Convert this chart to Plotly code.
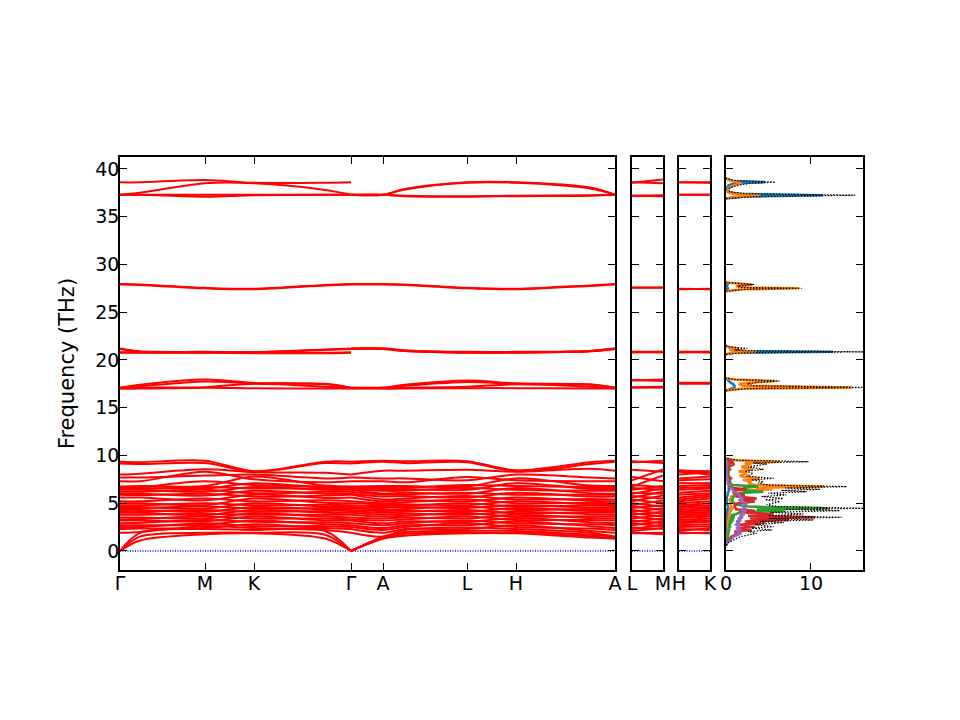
import plotly.graph_objects as go

# ---------------- k-path (distance units along the path) ----------------
seg1_k = [0, 20, 85, 134, 205, 231]            # Γ, near-Γ, M, K, near-Γ, Γ
seg2_k = [231, 263, 285, 347, 396, 470, 495]   # Γ, A, near-A, L, H, near-A, A
path_ticks = [0, 85, 134, 231, 263, 347, 396, 495]
path_labels = ["Γ", "M", "K", "Γ", "A", "L", "H", "A"]
p2_labels = ["L", "M"]
p3_labels = ["H", "K"]

# ---------------- phonon frequencies (THz), low bands (34, band order) ----------------
low_G = [0.0, 0.0, 0.0, 1.9, 2.3, 2.5, 2.7, 2.9, 3.2, 3.3, 3.5, 3.8, 4.0, 4.2, 4.3, 4.5, 4.6,
         4.8, 5.0, 5.2, 5.6, 5.9, 6.0, 6.2, 6.4, 6.5, 6.6, 6.7, 6.75, 7.3, 7.7, 8.0, 9.15, 9.35]
low_a = [1.1, 1.5, 1.9, 2.0, 2.35, 2.5, 2.7, 2.95, 3.2, 3.35, 3.5, 3.8, 4.0, 4.15, 4.3, 4.5, 4.6,
         4.8, 5.0, 5.2, 5.6, 5.85, 6.0, 6.2, 6.4, 6.5, 6.6, 6.7, 6.8, 7.3, 7.7, 8.1, 9.1, 9.3]
low_M = [1.75, 1.9, 2.3, 2.6, 2.4, 2.9, 2.75, 3.25, 3.1, 3.6, 3.4, 3.9, 3.75, 4.3, 4.1, 4.65, 4.45,
         5.0, 4.8, 5.5, 5.3, 6.0, 5.8, 6.4, 6.2, 6.7, 6.55, 7.3, 6.8, 8.3, 7.9, 8.55, 9.2, 9.45]
low_K = [1.85, 1.9, 2.2, 2.4, 2.8, 2.6, 3.2, 3.05, 3.6, 3.4, 3.95, 3.8, 4.3, 4.1, 4.6, 4.45, 5.0,
         4.8, 5.5, 5.2, 5.9, 5.7, 6.3, 6.05, 6.7, 6.55, 7.1, 6.9, 7.8, 7.5, 8.0, 8.25, 8.3, 8.35]
low_d = [1.3, 1.7, 2.1, 2.2, 2.4, 2.6, 2.8, 3.0, 3.2, 3.4, 3.6, 3.8, 4.0, 4.2, 4.35, 4.5, 4.65,
         4.85, 5.05, 5.3, 5.55, 5.8, 6.0, 6.2, 6.4, 6.55, 6.65, 6.75, 6.85, 7.2, 7.6, 8.2, 9.2, 9.35]
low_A = [1.3, 1.3, 1.5, 1.5, 1.9, 2.2, 2.4, 2.7, 2.9, 3.2, 3.4, 3.6, 3.8, 4.0, 4.2, 4.3, 4.5,
         4.7, 4.9, 5.0, 5.2, 5.4, 5.7, 5.9, 6.0, 6.3, 6.5, 6.7, 6.8, 7.3, 7.6, 8.4, 9.35, 9.45]
low_b = [1.6, 1.8, 2.0, 2.2, 2.3, 2.5, 2.7, 2.9, 3.1, 3.3, 3.5, 3.7, 3.9, 4.1, 4.25, 4.4, 4.6,
         4.75, 4.9, 5.1, 5.3, 5.5, 5.75, 5.95, 6.1, 6.3, 6.5, 6.65, 6.8, 7.2, 7.6, 8.4, 9.2, 9.4]
low_L = [1.85, 1.9, 2.1, 2.45, 2.3, 2.9, 2.7, 3.2, 3.05, 3.6, 3.4, 3.95, 3.8, 4.3, 4.1, 4.65, 4.5,
         5.0, 4.8, 5.4, 5.2, 5.75, 5.6, 6.1, 6.0, 6.6, 6.4, 6.9, 6.75, 7.75, 7.4, 8.5, 9.3, 9.4]
low_H = [1.85, 1.9, 2.1, 2.3, 2.7, 2.5, 3.1, 2.9, 3.45, 3.25, 3.8, 3.6, 4.1, 3.95, 4.5, 4.3, 4.8,
         4.65, 5.2, 5.0, 5.6, 5.4, 6.1, 5.9, 6.6, 6.4, 7.1, 6.8, 7.6, 7.4, 8.0, 8.3, 8.35, 8.45]
low_f = [1.4, 1.55, 1.7, 1.9, 2.1, 2.35, 2.6, 2.8, 3.0, 3.25, 3.45, 3.65, 3.85, 4.05, 4.2, 4.4, 4.55,
         4.75, 4.9, 5.05, 5.25, 5.45, 5.7, 5.9, 6.05, 6.3, 6.5, 6.7, 6.85, 7.3, 7.7, 8.6, 9.1, 9.3]

# ---------------- high bands (14) ----------------
high_G1 = [17.0, 17.05, 17.1, 17.1, 20.75, 20.8, 21.15, 21.2, 27.9, 27.95, 37.3, 37.3, 37.3, 38.6]
high_a = [17.0, 17.1, 17.25, 17.4, 20.75, 20.8, 20.85, 20.9, 27.85, 27.9, 37.3, 37.3, 37.5, 38.6]
high_M = [17.1, 17.15, 17.75, 17.95, 20.75, 20.8, 20.8, 20.85, 27.5, 27.55, 37.1, 37.3, 38.5, 38.85]
high_K = [17.05, 17.5, 17.55, 17.6, 20.7, 20.75, 20.8, 20.8, 27.4, 27.45, 37.25, 37.3, 38.5, 38.55]
high_d = [17.0, 17.2, 17.45, 17.5, 20.7, 20.75, 21.05, 21.1, 27.8, 27.85, 37.3, 37.3, 37.8, 38.55]
high_G3 = [17.0, 17.05, 17.1, 17.1, 21.15, 21.15, 21.2, 21.2, 27.9, 27.95, 37.3, 37.3, 37.3, 37.3]
high_A = [17.0, 17.05, 17.1, 17.1, 21.15, 21.15, 21.2, 21.2, 27.9, 27.95, 37.3, 37.3, 37.3, 37.3]
high_b = [17.0, 17.1, 17.3, 17.4, 20.95, 20.95, 21.0, 21.0, 27.85, 27.9, 37.15, 37.2, 37.85, 37.9]
high_L = [17.05, 17.2, 17.7, 17.85, 20.75, 20.8, 20.8, 20.85, 27.5, 27.55, 37.1, 37.15, 38.55, 38.6]
high_H = [17.05, 17.45, 17.5, 17.55, 20.75, 20.8, 20.8, 20.85, 27.4, 27.45, 37.15, 37.2, 38.55, 38.6]
high_f = [17.0, 17.2, 17.4, 17.45, 20.9, 20.9, 20.95, 20.95, 27.75, 27.8, 37.2, 37.25, 37.95, 38.05]

# ---------------- short panels L-M and H-K (start / end values) ----------------
p2_start = low_L + [17.1, 17.15, 17.85, 17.9, 20.8, 20.8, 20.85, 20.85, 27.55, 27.6, 37.2, 37.2, 38.55, 38.6]
p2_end = [1.9, 1.75, 2.4, 2.3, 2.75, 2.6, 3.1, 2.9, 3.4, 3.25, 3.75, 3.6, 4.1, 3.9, 4.45, 4.3, 4.8,
          4.65, 5.3, 5.0, 5.8, 5.5, 6.2, 6.0, 6.55, 6.4, 6.8, 6.7, 7.9, 7.3, 8.55, 8.3, 9.45, 9.2,
          17.1, 17.2, 17.95, 17.8, 20.85, 20.8, 20.85, 20.8, 27.6, 27.55, 37.15, 37.25, 38.9, 38.5]
p3_start = low_H + [17.5, 17.55, 17.6, 17.6, 20.8, 20.8, 20.85, 20.85, 27.4, 27.45, 37.3, 37.3, 38.6, 38.6]
p3_end = [1.9, 1.85, 2.4, 2.2, 2.8, 2.6, 3.2, 3.05, 3.6, 3.4, 3.95, 3.8, 4.3, 4.1, 4.6, 4.45, 5.0,
          4.8, 5.5, 5.2, 5.9, 5.7, 6.3, 6.05, 6.7, 6.55, 7.1, 6.9, 7.8, 7.5, 8.25, 8.0, 8.35, 8.3,
          17.55, 17.5, 17.6, 17.6, 20.85, 20.8, 20.85, 20.8, 27.45, 27.4, 37.3, 37.3, 38.6, 38.55]

# ---------------- DOS (states/THz) ----------------
freq_low = [0.6, 0.9, 1.15, 1.5, 1.85, 2.05, 2.2, 2.4, 2.55, 2.75, 2.97, 3.1, 3.25, 3.4, 3.52, 3.7,
            3.87, 4.05, 4.22, 4.35, 4.47, 4.65, 4.85, 5.0, 5.17, 5.35, 5.5, 5.7, 5.86, 6.05, 6.2,
            6.33, 6.46, 6.6, 6.74, 6.9, 7.1, 7.26, 7.45, 7.6, 7.85, 8.13, 8.35, 8.55, 8.8, 9.1,
            9.22, 9.35, 9.5, 9.7]
tdos_low = [0, 0.3, 0.9, 1.7, 3.6, 2.6, 5.4, 3.0, 5.6, 3.4, 6.8, 4.0, 10.3, 5.0, 13.6, 5.0,
            9.1, 5.2, 13.4, 7.0, 16.2, 6.0, 4.8, 5.4, 6.35, 4.6, 6.75, 4.2, 7.1, 5.0, 9.5,
            6.5, 11.1, 7.0, 14.2, 5.0, 3.8, 4.4, 3.0, 5.6, 2.4, 3.2, 2.2, 4.4, 2.6, 4.8,
            3.2, 9.7, 1.5, 0]
blue_low = [0, 0, 0, 0, 0.05, 0.05, 0.1, 0.1, 0.1, 0.1, 0.1, 0.1, 0.2, 0.1, 0.2, 0.1,
            0.2, 0.1, 0.2, 0.1, 0.3, 0.2, 0.1, 0.1, 0.1, 0.1, 0.1, 0.1, 0.2, 0.2, 0.3,
            0.3, 0.4, 0.3, 0.5, 0.3, 0.3, 0.3, 0.2, 0.3, 0.2, 0.2, 0.2, 0.3, 0.2, 0.3,
            0.3, 0.9, 0.2, 0]
orange_low = [0, 0, 0.05, 0.1, 0.2, 0.2, 0.3, 0.2, 0.3, 0.2, 0.3, 0.2, 0.4, 0.3, 0.5, 0.3,
              0.5, 0.4, 0.6, 0.5, 0.8, 0.6, 0.5, 0.5, 0.6, 0.4, 0.6, 0.6, 1.5, 1.6, 2.6,
              2.2, 5.5, 3.5, 11.5, 3.5, 2.6, 3.0, 2.0, 4.0, 1.6, 2.5, 1.5, 3.2, 1.8, 3.0,
              2.2, 6.35, 1.0, 0]
green_low = [0, 0.05, 0.1, 0.2, 0.3, 0.3, 0.4, 0.3, 0.5, 0.4, 0.6, 0.4, 0.9, 0.5, 1.0, 0.6,
             1.2, 1.6, 7.0, 3.6, 12.0, 2.6, 1.2, 1.0, 0.8, 0.7, 0.8, 0.9, 1.8, 1.4, 4.4,
             2.0, 2.4, 2.0, 3.8, 0.8, 0.5, 0.5, 0.4, 0.6, 0.3, 0.3, 0.3, 0.5, 0.3, 0.4,
             0.3, 0.6, 0.1, 0]
red_low = [0, 0.1, 0.3, 0.6, 1.4, 1.0, 3.0, 1.3, 3.4, 1.6, 4.6, 2.2, 7.4, 2.8, 10.5, 2.6,
           5.6, 1.6, 3.4, 1.2, 1.2, 1.0, 1.0, 1.4, 3.4, 2.0, 3.6, 1.2, 2.2, 0.8, 1.2,
           1.0, 2.4, 0.8, 0.6, 0.3, 0.3, 0.4, 0.3, 0.5, 0.2, 0.2, 0.2, 0.3, 0.3, 1.0,
           0.4, 0.8, 0.2, 0]
purple_low = [0, 0.15, 0.5, 0.9, 1.8, 1.2, 1.8, 1.2, 1.6, 1.2, 1.6, 1.2, 1.8, 1.4, 2.0, 1.6,
              2.2, 1.8, 2.4, 1.8, 2.2, 2.0, 2.2, 2.5, 1.8, 1.6, 2.0, 1.6, 1.6, 1.2, 1.0,
              0.8, 0.8, 0.6, 0.5, 0.3, 0.2, 0.2, 0.2, 0.2, 0.1, 0.1, 0.1, 0.1, 0.1, 0.1,
              0.1, 0.1, 0.0, 0]

freq_high = [16.8, 17.0, 17.12, 17.3, 17.5, 17.65, 17.8, 17.95, 18.1, None,
             20.6, 20.75, 20.85, 20.95, 21.05, 21.2, 21.35, 21.5, None,
             27.2, 27.4, 27.5, 27.6, 27.75, 27.9, 28.1, None,
             36.9, 37.1, 37.25, 37.4, 37.6, 38.0, 38.3, 38.5, 38.62, 38.75, 39.0]
tdos_high = [0, 2.6, 16.5, 3.2, 2.5, 3.8, 6.3, 1.2, 0, None,
             0, 2.0, 16.2, 2.6, 1.0, 2.5, 0.5, 0, None,
             0, 2.2, 8.9, 1.7, 1.4, 3.3, 0, None,
             0, 3.2, 15.2, 2.4, 0.4, 0.4, 1.4, 3.0, 5.8, 1.4, 0]
blue_high = [0, 0.5, 1.0, 1.0, 0.8, 0.5, 0.3, 0.1, 0, None,
             0, 1.0, 12.6, 1.5, 0.6, 1.0, 0.3, 0, None,
             0, 0.1, 0.3, 0.1, 0.1, 0.2, 0, None,
             0, 2.0, 11.4, 1.5, 0.2, 0.1, 0.3, 1.0, 4.6, 0.8, 0]
orange_high = [0, 2.0, 14.8, 2.0, 1.5, 3.0, 5.8, 1.0, 0, None,
               0, 0.8, 3.6, 1.0, 0.4, 1.5, 0.2, 0, None,
               0, 2.0, 8.6, 1.5, 1.2, 3.0, 0, None,
               0, 1.0, 4.0, 0.8, 0.2, 0.3, 1.0, 1.8, 1.5, 0.5, 0]

dos_ticks = [0, 10]
freq_ticks = [0, 5, 10, 15, 20, 25, 30, 35, 40]

# ---------------- figure ----------------
RED = "#ff0000"
fig = go.Figure()
band_line = dict(color=RED, width=2, shape="spline", smoothing=0.9)

seg1_nodes = [low_G + high_G1, low_a + high_a, low_M + high_M, low_K + high_K,
              low_d + high_d, low_G + high_G1]
seg2_nodes = [low_G + high_G3, low_A + high_A, low_b + high_b, low_L + high_L,
              low_H + high_H, low_f + high_f, low_A + high_A]

# zero lines (blue dotted)
for xa, ya, xs in [("x", "y", [path_ticks[0], path_ticks[-1]]),
                   ("x2", "y2", [0, 1]), ("x3", "y3", [0, 1])]:
    fig.add_trace(go.Scatter(x=xs, y=[0, 0], mode="lines", xaxis=xa, yaxis=ya,
                             line=dict(color="#0000ff", width=1.3, dash="1px,1.5px"),
                             hoverinfo="skip", showlegend=False))

nb = len(seg1_nodes[0])
for i in range(nb):
    fig.add_trace(go.Scatter(x=seg1_k, y=[n[i] for n in seg1_nodes], mode="lines",
                             line=band_line, xaxis="x", yaxis="y", showlegend=False))
    fig.add_trace(go.Scatter(x=seg2_k, y=[n[i] for n in seg2_nodes], mode="lines",
                             line=band_line, xaxis="x", yaxis="y", showlegend=False))
    fig.add_trace(go.Scatter(x=[0, 1], y=[p2_start[i], p2_end[i]], mode="lines",
                             line=dict(color=RED, width=2), xaxis="x2", yaxis="y2",
                             showlegend=False))
    fig.add_trace(go.Scatter(x=[0, 1], y=[p3_start[i], p3_end[i]], mode="lines",
                             line=dict(color=RED, width=2), xaxis="x3", yaxis="y3",
                             showlegend=False))

# DOS
pdos = [("#1f77b4", blue_low + [None] + blue_high, freq_low + [None] + freq_high),
        ("#ff7f0e", orange_low + [None] + orange_high, freq_low + [None] + freq_high),
        ("#2ca02c", green_low, freq_low),
        ("#d62728", red_low, freq_low),
        ("#9467bd", purple_low, freq_low)]
for col, xs, ys in pdos:
    fig.add_trace(go.Scatter(x=xs, y=ys, mode="lines", line=dict(color=col, width=2.5),
                             xaxis="x4", yaxis="y4", showlegend=False))
fig.add_trace(go.Scatter(x=tdos_low + [None] + tdos_high, y=freq_low + [None] + freq_high,
                         mode="lines", line=dict(color="black", width=1.2, dash="1.5px,1.5px"),
                         xaxis="x4", yaxis="y4", showlegend=False))

FONT = "DejaVu Sans"
OFF = 8  # page body offset of the browser
REF_L, REF_R, REF_T, REF_B = 120, 863, 157, 570
W = REF_R - REF_L


def dom(a, b):
    return [(a - REF_L) / W, (b - REF_L) / W]


axis_common = dict(showline=True, linecolor="black", linewidth=1.5, mirror="ticks",
                   ticks="inside", ticklen=7, tickwidth=1.3, tickcolor="black",
                   showgrid=False, zeroline=False,
                   tickfont=dict(family=FONT, size=19, color="black"))
yr = [-1.99, 41.25]
xstand = -5

fig.update_layout(
    width=960, height=720, paper_bgcolor="white", plot_bgcolor="white",
    margin=dict(l=REF_L - OFF, r=960 - REF_R + OFF, t=REF_T - OFF, b=720 - REF_B + OFF),
    showlegend=False,
    xaxis=dict(domain=dom(120, 615), range=[path_ticks[0], path_ticks[-1]],
               tickmode="array", tickvals=path_ticks, ticktext=path_labels,
               ticklabelstandoff=xstand, **axis_common),
    xaxis2=dict(domain=dom(632, 663), range=[0, 1], tickmode="array", tickvals=[0, 1],
                ticktext=p2_labels, ticklabelstandoff=xstand, anchor="y2", **axis_common),
    xaxis3=dict(domain=dom(679, 710), range=[0, 1], tickmode="array", tickvals=[0, 1],
                ticktext=p3_labels, ticklabelstandoff=xstand, anchor="y3", **axis_common),
    xaxis4=dict(domain=dom(726, 863), range=[0, 16.12], tickmode="array",
                tickvals=dos_ticks, ticktext=[str(v) for v in dos_ticks],
                ticklabelstandoff=xstand, anchor="y4", **axis_common),
    yaxis=dict(range=yr, tickmode="array", tickvals=freq_ticks,
               ticktext=[str(v) for v in freq_ticks], ticklabelstandoff=-5,
               title=dict(text="Frequency (THz)", font=dict(family=FONT, size=21, color="black"),
                          standoff=15),
               **axis_common),
    yaxis2=dict(range=yr, tickvals=freq_ticks, showticklabels=False, anchor="x2", **axis_common),
    yaxis3=dict(range=yr, tickvals=freq_ticks, showticklabels=False, anchor="x3", **axis_common),
    yaxis4=dict(range=yr, tickvals=freq_ticks, showticklabels=False, anchor="x4", **axis_common),
)

fig.write_html("out.html")
